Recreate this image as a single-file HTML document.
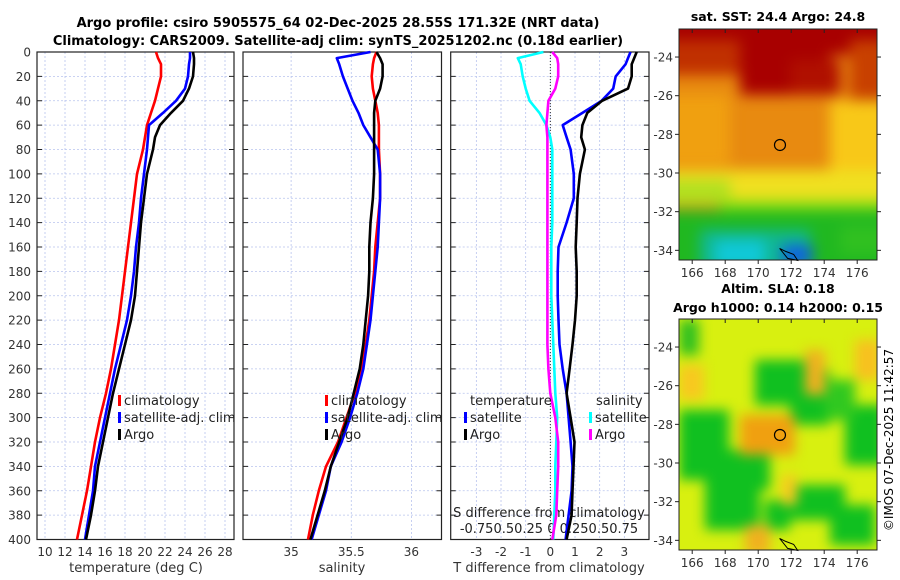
<!DOCTYPE html>
<html><head><meta charset="utf-8"><style>
body{margin:0;background:#fff}
svg{display:block;font-family:"DejaVu Sans","Liberation Sans",sans-serif}
.bl{filter:blur(7px)}
.bl2{filter:blur(6px)}
</style></head><body>
<svg id="c" width="900" height="580" viewBox="0 0 900 580" xmlns="http://www.w3.org/2000/svg">
<defs>
<clipPath id="m1"><rect x="679" y="29" width="198" height="231"/></clipPath>
<clipPath id="m2"><rect x="679" y="319" width="198" height="231"/></clipPath>
</defs>
<text x="338" y="27" text-anchor="middle" font-size="13" font-weight="bold">Argo profile: csiro 5905575_64 02-Dec-2025 28.55S 171.32E (NRT data)</text>
<text x="338" y="45" text-anchor="middle" font-size="13" font-weight="bold">Climatology: CARS2009. Satellite-adj clim: synTS_20251202.nc (0.18d earlier)</text>
<g id="plots"></g>
<g clip-path="url(#m1)">
<rect x="679" y="29" width="198" height="231" fill="#e88a10"/>
<g class="bl">
<rect x="660" y="10" width="240" height="45" fill="#a80000"/>
<rect x="740" y="40" width="90" height="55" fill="#a80000"/>
<rect x="790" y="60" width="50" height="35" fill="#b01000"/>
<rect x="660" y="40" width="80" height="35" fill="#c03000"/>
<rect x="850" y="40" width="40" height="60" fill="#c84000"/>
<rect x="660" y="95" width="70" height="70" fill="#f0a010"/>
<rect x="830" y="100" width="60" height="70" fill="#f8c818"/>
<rect x="660" y="170" width="240" height="30" fill="#f0e020"/>
<rect x="660" y="180" width="70" height="25" fill="#b0e020"/>
<rect x="720" y="200" width="180" height="20" fill="#90e010"/>
<rect x="660" y="210" width="240" height="65" fill="#20b820"/>
<rect x="700" y="230" width="110" height="40" fill="#10b890"/>
<rect x="715" y="240" width="50" height="30" fill="#10c8d8"/>
<rect x="782" y="245" width="30" height="20" fill="#1060e0"/>
<rect x="840" y="225" width="50" height="30" fill="#30c020"/>
</g>
</g>
<g clip-path="url(#m2)">
<rect x="679" y="319" width="198" height="231" fill="#d8f010"/>
<g class="bl2">
<rect x="755" y="360" width="60" height="45" fill="#10c020"/>
<rect x="790" y="370" width="40" height="55" fill="#10c020"/>
<rect x="679" y="410" width="50" height="70" fill="#10c020"/>
<rect x="705" y="450" width="55" height="80" fill="#10c020"/>
<rect x="740" y="445" width="30" height="45" fill="#10c020"/>
<rect x="845" y="405" width="40" height="60" fill="#10c020"/>
<rect x="825" y="380" width="30" height="40" fill="#30c820"/>
<rect x="785" y="485" width="60" height="35" fill="#10c020"/>
<rect x="765" y="500" width="25" height="30" fill="#10c020"/>
<rect x="830" y="505" width="45" height="40" fill="#10c020"/>
<rect x="679" y="320" width="20" height="35" fill="#30c020"/>
<rect x="740" y="415" width="55" height="40" fill="#f0a010"/>
<rect x="805" y="350" width="20" height="45" fill="#f0b020"/>
<rect x="745" y="525" width="25" height="30" fill="#f0b020"/>
<rect x="782" y="475" width="15" height="30" fill="#f8c820"/>
<rect x="855" y="340" width="25" height="40" fill="#f8c020"/>
<rect x="679" y="365" width="25" height="35" fill="#f8c820"/>
</g>
</g>
<g id="maps"></g>
<text x="893" y="440" text-anchor="middle" font-size="12" transform="rotate(-90 893 440)">©IMOS 07-Dec-2025 11:42:57</text>
</svg>
<script>
const depths=[0,5,10,20,30,40,50,60,70,80,100,120,140,160,180,200,220,240,260,280,300,320,340,360,380,400];
const tClim=[21.1,21.3,21.6,21.6,21.3,21.0,20.6,20.2,20.0,19.8,19.2,18.9,18.6,18.3,18.0,17.7,17.4,17.0,16.6,16.1,15.5,15.0,14.6,14.2,13.7,13.2];
const tSat=[24.5,24.5,24.4,24.3,24.0,23.1,21.8,20.4,20.3,20.2,19.9,19.6,19.4,19.1,18.9,18.6,18.2,17.6,17.0,16.5,16.0,15.5,15.0,14.8,14.4,14.0];
const tArgo=[24.8,24.9,24.9,24.8,24.4,23.8,22.6,21.5,21.0,20.8,20.2,19.9,19.6,19.4,19.2,19.0,18.6,18.0,17.4,16.8,16.3,15.8,15.3,15.0,14.6,14.1];
const sClim=[35.71,35.69,35.68,35.67,35.68,35.70,35.72,35.73,35.73,35.73,35.74,35.74,35.72,35.70,35.69,35.67,35.65,35.62,35.58,35.53,35.46,35.39,35.29,35.23,35.18,35.14];
const sSat=[35.66,35.38,35.40,35.43,35.47,35.51,35.56,35.60,35.66,35.72,35.74,35.74,35.73,35.72,35.70,35.68,35.66,35.63,35.60,35.55,35.49,35.42,35.33,35.29,35.23,35.17];
const sArgo=[35.71,35.74,35.76,35.76,35.74,35.70,35.69,35.69,35.69,35.69,35.69,35.68,35.66,35.65,35.65,35.64,35.62,35.60,35.57,35.52,35.47,35.40,35.33,35.28,35.22,35.16];
const dTSat=[3.25,3.15,3.05,2.65,2.55,2.08,1.3,0.5,0.66,0.82,0.95,0.95,0.66,0.33,0.3,0.3,0.33,0.37,0.5,0.66,0.74,0.82,0.9,0.86,0.74,0.62];
const dTArgo=[3.5,3.4,3.3,3.3,3.15,2.1,1.5,1.3,1.25,1.4,1.2,1.1,1.07,1.03,1.07,1.07,1.0,0.9,0.78,0.66,0.82,0.98,0.94,0.9,0.86,0.66];
const dSSat=[-0.07,-0.33,-0.30,-0.28,-0.25,-0.21,-0.11,-0.04,0.0,0.02,0.02,0.02,0.02,0.01,0.01,0.01,0.02,0.03,0.04,0.05,0.07,0.06,0.05,0.05,0.04,0.03];
const dSArgo=[0.02,0.07,0.08,0.08,0.05,-0.02,-0.03,-0.04,-0.03,-0.03,-0.03,-0.03,-0.03,-0.03,-0.03,-0.03,-0.03,-0.03,-0.02,0.0,0.05,0.08,0.08,0.07,0.06,0.02];
const tTicks=[10,12,14,16,18,20,22,24,26,28];
const sTicks=[35,35.5,36];
const dTicks=[-3,-2,-1,0,1,2,3];
const depthTicks=[0,20,40,60,80,100,120,140,160,180,200,220,240,260,280,300,320,340,360,380,400];
const lonTicks=[166,168,170,172,174,176];
const latTicks=[-24,-26,-28,-30,-32,-34];

const NS='http://www.w3.org/2000/svg';
const G=document.getElementById('plots'),GM=document.getElementById('maps');
function mk(par,tag,at,txt){const e=document.createElementNS(NS,tag);for(const k in at)e.setAttribute(k,at[k]);if(txt!==undefined)e.textContent=txt;par.appendChild(e);return e;}
const Y0=52,Y1=539.5;
const yD=d=>Y0+(d/400)*(Y1-Y0);
const panels=[
 {x0:37,x1:234,v0:9.2,v1:28.9,name:'temperature'},
 {x0:243,x1:441.5,v0:34.6,v1:36.25,name:'salinity'},
 {x0:450.7,x1:649,v0:-4.04,v1:4.0,name:'difference'}];
const sx=(p,v)=>p.x0+(v-p.v0)/(p.v1-p.v0)*(p.x1-p.x0);
const xT=v=>sx(panels[0],v),xS=v=>sx(panels[1],v),xDT=v=>sx(panels[2],v),xDS=v=>sx(panels[2],v*4);
const grids=[tTicks,[35,35.5,36],[-3,-2,-1,0,1,2,3]];
panels.forEach((p,i)=>{
 const g=mk(G,'g',{});
 
 
 grids[i].forEach(v=>{const l=mk(g,'line',{x1:sx(p,v),x2:sx(p,v),y1:Y0,y2:Y1,stroke:'#b8c4ee','stroke-width':0.8,'stroke-dasharray':'2,2'});});
 depthTicks.forEach(d=>{const l=mk(g,'line',{x1:p.x0,x2:p.x1,y1:yD(d),y2:yD(d),stroke:'#b8c4ee','stroke-width':0.8,'stroke-dasharray':'2,2'});
  mk(g,'line',{x1:p.x0,x2:p.x0+5,y1:yD(d),y2:yD(d),stroke:'#222'});mk(g,'line',{x1:p.x1,x2:p.x1-5,y1:yD(d),y2:yD(d),stroke:'#222'});});
 const r=mk(g,'rect',{x:p.x0,y:Y0,width:p.x1-p.x0,height:Y1-Y0,fill:'none',stroke:'#222','stroke-width':1.2});
 
 
});
depthTicks.forEach(d=>{const t=mk(G,'text',{x:31,y:yD(d)+4.5,'text-anchor':'end','font-size':12,fill:'#333'},d);});
tTicks.forEach(v=>{const t=mk(G,'text',{x:xT(v),y:556,'text-anchor':'middle','font-size':12,fill:'#333'},v);});
sTicks.forEach(v=>{const t=mk(G,'text',{x:xS(v),y:556,'text-anchor':'middle','font-size':12,fill:'#333'},v);});
dTicks.forEach(v=>{const t=mk(G,'text',{x:xDT(v),y:556,'text-anchor':'middle','font-size':12,fill:'#333'},v);});
[['temperature (deg C)',136,'temp-axis-title'],['salinity',342,'sal-axis-title'],['T difference from climatology',549,'tdiff-axis-title']].forEach(a=>{const t=mk(G,'text',{x:a[1],y:572,'text-anchor':'middle','font-size':13,fill:'#333'},a[0]);});
let t1=mk(G,'text',{x:549,y:517,'text-anchor':'middle','font-size':13,fill:'#222'},'S difference from climatology');
let t2=mk(G,'text',{x:549,y:533,'text-anchor':'middle','font-size':13,fill:'#222'},'-0.750.50.25 0 0.250.50.75');
const zl=mk(G,'line',{x1:xDT(0),x2:xDT(0),y1:Y0,y2:Y1,stroke:'#333','stroke-dasharray':'1,2'});
function line(vals,fx,col,name){const pts=vals.map((v,i)=>fx(v).toFixed(1)+','+yD(depths[i]).toFixed(1)).join(' ');const e=mk(G,'polyline',{points:pts,fill:'none',stroke:col,'stroke-width':2.6,'stroke-linejoin':'round'});}
line(tClim,xT,'#f00','temp-climatology-line');line(tSat,xT,'#00f','temp-satellite-line');line(tArgo,xT,'#000','temp-argo-line');
line(sClim,xS,'#f00','sal-climatology-line');line(sSat,xS,'#00f','sal-satellite-line');line(sArgo,xS,'#000','sal-argo-line');
line(dSSat,xDS,'#0ff','sdiff-satellite-line');line(dSArgo,xDS,'#f0f','sdiff-argo-line');
line(dTSat,xDT,'#00f','tdiff-satellite-line');line(dTArgo,xDT,'#000','tdiff-argo-line');
function leg(x,y,col,txt,name){const g=mk(G,'g',{});mk(g,'rect',{x:x,y:y-10,width:3,height:11,fill:col});mk(g,'text',{x:x+6,y:y,'font-size':13,fill:'#222'},txt);}
[118,325].forEach((x,i)=>{leg(x,405,'#f00','climatology','legend-climatology-'+i);leg(x,422,'#00f','satellite-adj. clim','legend-satellite-'+i);leg(x,439,'#000','Argo','legend-argo-'+i);});
let lt=mk(G,'text',{x:470,y:405,'font-size':13,fill:'#222'},'temperature');
let ls=mk(G,'text',{x:596,y:405,'font-size':13,fill:'#222'},'salinity');
leg(464,422,'#00f','satellite','legend-t-satellite');leg(464,439,'#000','Argo','legend-t-argo');
leg(589,422,'#0ff','satellite','legend-s-satellite');leg(589,439,'#f0f','Argo','legend-s-argo');
const maps=[{y0:29,y1:260,title:['sat. SST: 24.4 Argo: 24.8'],ty:[21],name:'sst'},{y0:319,y1:550,title:['Altim. SLA: 0.18','Argo h1000: 0.14 h2000: 0.15'],ty:[293,312],name:'sla'}];
const MX0=679,MX1=877,L0=165.2,L1=177.2,LA0=-22.55,LA1=-34.5;
const mxf=v=>MX0+(v-L0)/(L1-L0)*(MX1-MX0);
maps.forEach(m=>{
 const myf=v=>m.y0+(v-LA0)/(LA1-LA0)*(m.y1-m.y0);
 const g=mk(GM,'g',{});
 mk(g,'rect',{x:MX0,y:m.y0,width:MX1-MX0,height:m.y1-m.y0,fill:'none',stroke:'#222'});
 lonTicks.forEach(v=>{mk(g,'line',{x1:mxf(v),x2:mxf(v),y1:m.y1,y2:m.y1+4,stroke:'#222'});mk(g,'line',{x1:mxf(v),x2:mxf(v),y1:m.y0,y2:m.y0+4,stroke:'#222'});mk(g,'text',{x:mxf(v),y:m.y1+17,'text-anchor':'middle','font-size':12,fill:'#333'},v);});
 latTicks.forEach(v=>{mk(g,'line',{x1:MX0-4,x2:MX0,y1:myf(v),y2:myf(v),stroke:'#222'});mk(g,'line',{x1:MX1,x2:MX1+4,y1:myf(v),y2:myf(v),stroke:'#222'});mk(g,'text',{x:MX0-6,y:myf(v)+4.5,'text-anchor':'end','font-size':12,fill:'#333'},v);});
 const c=mk(g,'circle',{cx:mxf(171.32),cy:myf(-28.55),r:5.5,fill:'none',stroke:'#000','stroke-width':1.2});
 mk(g,'path',{d:`M${mxf(171.3)} ${myf(-33.9)} l8 10 l10 2 l-4 -6 l-8 -3 z`,fill:'none',stroke:'#000','stroke-width':1});
 m.title.forEach((tt,i)=>{const t=mk(GM,'text',{x:778,y:m.ty[i],'text-anchor':'middle','font-size':12.5,'font-weight':'bold'},tt);});
});
</script>
</body></html>
